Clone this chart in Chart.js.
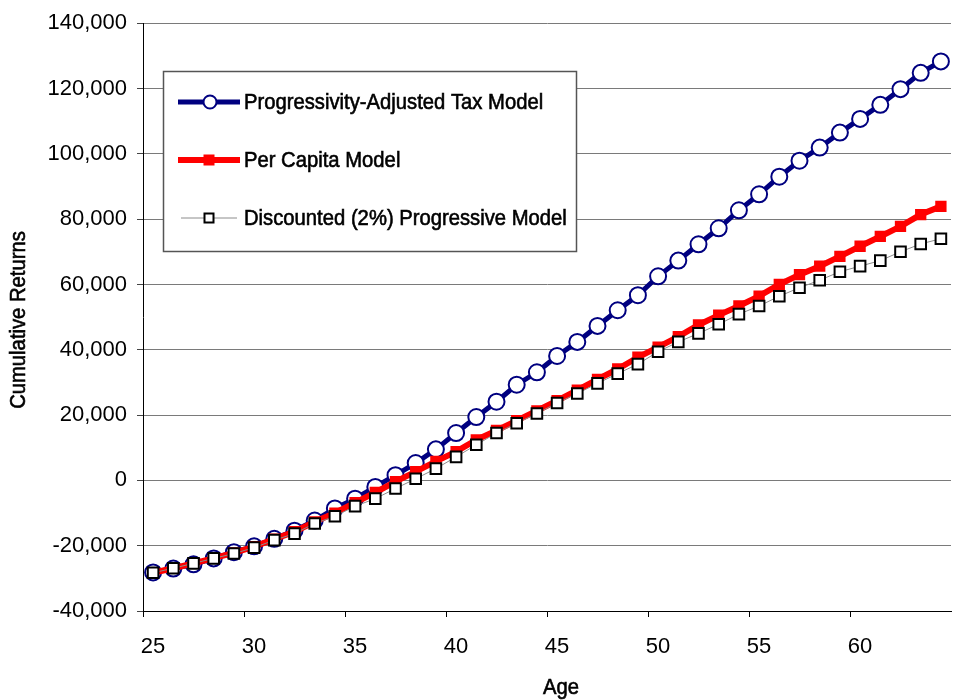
<!DOCTYPE html>
<html>
<head>
<meta charset="utf-8">
<script src="https://cdn.jsdelivr.net/npm/chart.js@4/dist/chart.umd.min.js"></script>
<style>
  html, body { margin: 0; padding: 0; background: #fff; overflow: hidden; }
  #wrap { position: relative; width: 961px; height: 700px; }
  canvas { display: block; }
</style>
</head>
<body>
<div id="wrap"><canvas id="c" width="961" height="700"></canvas></div>
<script>
// Age categories (x axis)
const ages = [25, 26, 27, 28, 29, 30, 31, 32, 33, 34,
              35, 36, 37, 38, 39, 40, 41, 42, 43, 44,
              45, 46, 47, 48, 49, 50, 51, 52, 53, 54,
              55, 56, 57, 58, 59, 60, 61, 62, 63, 64];

// Cumulative returns by model
const progressiveModel = [-28200, -27000, -25700, -23900, -22000, -20200, -17900, -15400, -12300, -8600,
                          -5600, -2000, 1600, 5300, 9500, 14500, 19400, 24100, 29300, 33100,
                          38100, 42400, 47300, 52100, 56700, 62500, 67300, 72300, 77200, 82700,
                          87600, 93000, 97900, 101900, 106500, 110700, 115000, 119800, 124800, 128300];

const perCapitaModel = [-28300, -26900, -25400, -23800, -22200, -20300, -18000, -15700, -12700, -10000,
                        -6800, -3700, -400, 2700, 5800, 8800, 12400, 15300, 18300, 21300,
                        24400, 27600, 30900, 34100, 37700, 40800, 44000, 47600, 50600, 53400,
                        56400, 60000, 63000, 65600, 68600, 71700, 74700, 77800, 81400, 83900];

const discountedModel = [-28300, -26900, -25400, -23900, -22400, -20600, -18300, -16300, -13200, -11000,
                         -7900, -5600, -2500, 500, 3600, 7200, 10900, 14500, 17500, 20500,
                         23700, 26600, 29700, 32700, 35600, 39400, 42400, 45000, 47800, 50900,
                         53400, 56400, 59000, 61300, 63900, 65600, 67300, 70000, 72400, 74000];

const seriesNames = ['Progressivity-Adjusted Tax Model', 'Per Capita Model', 'Discounted (2%) Progressive Model'];

// Value axis range
const yMin = -40000, yMax = 140000, yStep = 20000;
const labelEvery = 5;

const FAMILY = '"Liberation Sans", Arial, sans-serif';
const TITLE_FONT = '22px ' + FAMILY;
const SQUEEZE = 0.92;   // slightly condensed lettering for titles and legend

function squeezedText(ctx, text, x, y, align) {
  ctx.save();
  ctx.translate(x, y);
  ctx.scale(SQUEEZE, 1);
  ctx.textAlign = align;
  ctx.lineWidth = 0.6;
  ctx.strokeStyle = ctx.fillStyle;
  ctx.fillText(text, 0, 0);
  ctx.strokeText(text, 0, 0);
  ctx.restore();
}

// Axis titles and the boxed legend inside the plot
const overlay = {
  id: 'overlay',
  afterDraw(chart) {
    const ctx = chart.ctx;
    const ds = chart.data.datasets;
    ctx.save();
    ctx.fillStyle = '#000';
    ctx.font = TITLE_FONT;
    ctx.textBaseline = 'middle';
    squeezedText(ctx, 'Age', 561, 688, 'center');
    ctx.save();
    ctx.translate(19, 320);
    ctx.rotate(-Math.PI / 2);
    squeezedText(ctx, 'Cumulative Returns', 0, 0, 'center');
    ctx.restore();

    // legend box
    ctx.fillStyle = '#fff';
    ctx.fillRect(163.5, 71.5, 413, 180);
    ctx.strokeStyle = '#555';
    ctx.lineWidth = 1.5;
    ctx.strokeRect(163.5, 71.5, 413, 180);

    const rows = [102, 160, 218];
    ds.forEach((d, i) => {
      const y = rows[i];
      ctx.strokeStyle = d.borderColor;
      ctx.lineWidth = d.borderWidth;
      ctx.beginPath();
      ctx.moveTo(i === 2 ? 181 : 178, y);
      ctx.lineTo(i === 2 ? 237 : 240, y);
      ctx.stroke();
      ctx.lineWidth = d.pointBorderWidth;
      ctx.fillStyle = d.pointBackgroundColor;
      ctx.strokeStyle = d.pointBorderColor;
      if (d.pointStyle === 'circle') {
        ctx.beginPath();
        ctx.arc(210, y, 6.5, 0, Math.PI * 2);
        ctx.fill();
        ctx.stroke();
      } else {
        const s = i === 1 ? 5.5 : 4.5;
        ctx.fillRect(209 - s, y - s, 2 * s, 2 * s);
        if (d.pointBorderWidth) ctx.strokeRect(209 - s, y - s, 2 * s, 2 * s);
      }
      ctx.fillStyle = '#000';
      ctx.font = TITLE_FONT;
      squeezedText(ctx, d.label, 244, y + 1, 'left');
    });
    ctx.restore();
  }
};

new Chart(document.getElementById('c'), {
  type: 'line',
  data: {
    labels: ages,
    datasets: [
      {
        label: seriesNames[0],
        data: progressiveModel,
        borderColor: '#000080',
        borderWidth: 5,
        pointStyle: 'circle',
        pointRadius: 8,
        pointBorderWidth: 2,
        pointBackgroundColor: '#ffffff',
        pointBorderColor: '#000080',
        tension: 0,
        order: 3
      },
      {
        label: seriesNames[1],
        data: perCapitaModel,
        borderColor: '#ff0000',
        borderWidth: 6,
        pointStyle: 'rect',
        pointRadius: 8,
        pointBorderWidth: 0,
        pointBackgroundColor: '#ff0000',
        pointBorderColor: '#ff0000',
        tension: 0,
        order: 2
      },
      {
        label: seriesNames[2],
        data: discountedModel,
        borderColor: '#8c8c8c',
        borderWidth: 1,
        pointStyle: 'rect',
        pointRadius: 7.5,
        pointBorderWidth: 2,
        pointBackgroundColor: '#ffffff',
        pointBorderColor: '#000000',
        tension: 0,
        order: 1
      }
    ]
  },
  options: {
    responsive: false,
    animation: false,
    maintainAspectRatio: false,
    devicePixelRatio: 1,
    layout: { padding: { top: 8, left: 0, right: 0, bottom: 0 } },
    plugins: {
      legend: { display: false },
      tooltip: { enabled: false }
    },
    scales: {
      x: {
        type: 'category',
        offset: true,
        afterFit(scale) { scale.height = 89; },
        border: { display: true, color: '#000', width: 1 },
        grid: {
          offset: true,
          drawOnChartArea: false,
          drawTicks: true,
          tickLength: 6,
          tickColor: (c) => (c.index % labelEvery === 0 ? '#000' : 'rgba(0,0,0,0)')
        },
        ticks: {
          autoSkip: false,
          maxRotation: 0,
          padding: 17,
          color: '#000',
          font: { family: FAMILY, size: 22 },
          callback(value, index) {
            return index % labelEvery === 0 ? this.getLabelForValue(value) : '';
          }
        }
      },
      y: {
        min: yMin,
        max: yMax,
        afterFit(scale) { scale.width = 143; },
        border: { display: true, color: '#000', width: 1 },
        grid: {
          color: (c) => (c.tick && c.tick.value === yMin ? '#000' : '#7a7a7a'),
          lineWidth: 1,
          drawTicks: true,
          tickLength: 6,
          tickColor: '#444'
        },
        ticks: {
          stepSize: yStep,
          padding: 10,
          color: '#000',
          font: { family: FAMILY, size: 22 },
          callback: (v) => v.toLocaleString('en-US')
        }
      }
    }
  },
  plugins: [overlay]
});
</script>
</body>
</html>
